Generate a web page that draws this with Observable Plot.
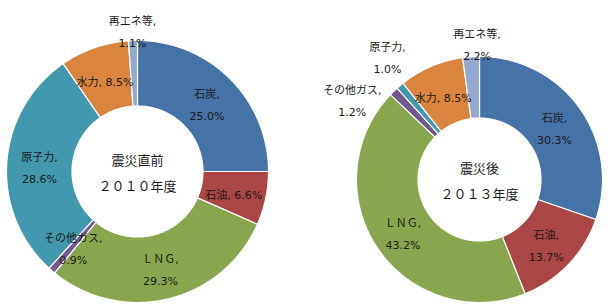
<!DOCTYPE html>
<html><head><meta charset="utf-8">
<script src="https://cdn.jsdelivr.net/npm/d3@7"></script>
<script src="https://cdn.jsdelivr.net/npm/@observablehq/plot@0.6"></script>
<style>html,body{margin:0;padding:0;background:#fff}</style>
</head><body><div id="chart"></div>
<script>
// ---- data ----
const categories = ["石炭", "石油", "ＬＮＧ", "その他ガス", "原子力", "水力", "再エネ等"];
const values2010 = [25.0, 6.6, 29.3, 0.9, 28.6, 8.5, 1.1];
const values2013 = [30.3, 13.7, 43.2, 1.2, 1.0, 8.5, 2.2];
const centerTitles = ["震災直前", "震災後"];
const yearLabels = ["２０１０年度", "２０１３年度"];
const colors = ["#4572A7", "#AA4643", "#89A54E", "#71588F", "#4198AF", "#DB843D", "#93A9CF"];

// ---- layout ----
const W = 609, H = 308;
const FONT = "'DejaVu Sans', 'Noto Sans CJK JP', sans-serif";
const donuts = [
  {values: values2010, title: centerTitles[0], year: yearLabels[0], cx: 137, cy: 171, r: 131, hole: 0.5,
   oneLine: ["石油", "水力"], outside: {"再エネ等": [358, 1.09]}},
  {values: values2013, title: centerTitles[1], year: yearLabels[1], cx: 479, cy: 179, r: 123, hole: 0.5,
   oneLine: ["水力"], outside: {"その他ガス": [302.8, 1.23], "原子力": [323.6, 1.26], "再エネ等": [359, 1.12]}}
];

const polar = (d, a, rr) => [d.cx + rr * Math.sin(a), d.cy - rr * Math.cos(a)];
const pts = [], labels = [], centers = [];
donuts.forEach((d, di) => {
  const total = d3.sum(d.values);
  let acc = 0;
  d.values.forEach((v, i) => {
    const a0 = acc / total * 2 * Math.PI;
    acc += v;
    const a1 = acc / total * 2 * Math.PI;
    const key = di + "-" + i;
    const n = Math.max(2, Math.ceil((a1 - a0) / 0.01));
    const ring = [];
    for (let k = 0; k <= n; k++) ring.push(polar(d, a0 + (a1 - a0) * k / n, d.r));
    for (let k = n; k >= 0; k--) ring.push(polar(d, a0 + (a1 - a0) * k / n, d.r * d.hole));
    ring.push(ring[0]);
    ring.forEach(([x, y]) => pts.push({key, cat: categories[i], x, y}));
    const name = categories[i];
    let am = (a0 + a1) / 2, rf = 0.75;
    if (d.outside[name]) { am = d.outside[name][0] * Math.PI / 180; rf = d.outside[name][1]; }
    const [lx, ly] = polar(d, am, d.r * rf);
    const pct = v.toFixed(1) + "%";
    labels.push({x: lx, y: ly, text: d.oneLine.includes(name) ? `${name}, ${pct}` : `${name},\n${pct}`});
  });
  centers.push({x: d.cx, y: d.cy - 2, text: d.title + "\n" + d.year});
});

const chart = Plot.plot({
  width: W, height: H,
  marginTop: 0, marginRight: 0, marginBottom: 0, marginLeft: 0,
  x: {domain: [0, W], range: [0, W], axis: null},
  y: {domain: [0, H], range: [0, H], axis: null},
  color: {domain: categories, range: colors},
  style: {fontFamily: FONT, background: "#fff"},
  marks: [
    Plot.line(pts, {x: "x", y: "y", z: "key", fill: "cat", stroke: "#fff", strokeWidth: 1.2, curve: "linear"}),
    Plot.text(labels, {x: "x", y: "y", text: "text", fontSize: 11, lineHeight: 2, fill: "#1a1a1a", fontFamily: FONT}),
    Plot.text(centers, {x: "x", y: "y", text: "text", fontSize: 13, lineHeight: 2.05, fill: "#1a1a1a", fontFamily: FONT})
  ]
});
document.getElementById("chart").appendChild(chart);
</script>
</body></html>
